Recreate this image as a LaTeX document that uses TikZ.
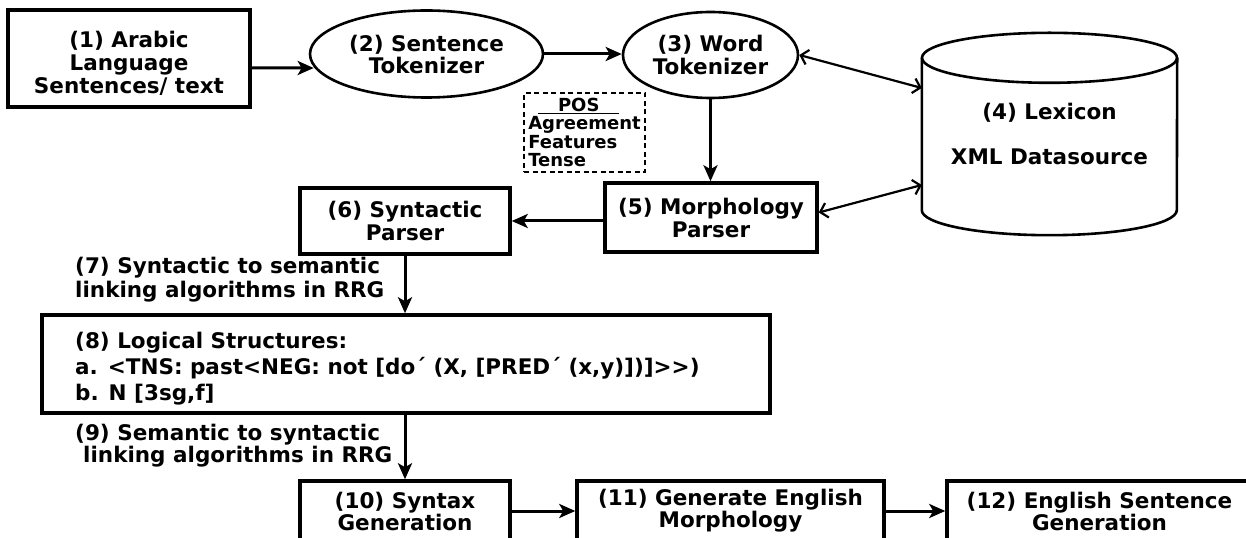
\documentclass[tikz,border=0pt]{standalone}
\usepackage{fontspec}
\setmainfont{DejaVu Sans}
\usetikzlibrary{shapes.geometric,arrows.meta}
\begin{document}
\begin{tikzpicture}[x=1bp,y=-1bp,
  every node/.style={font=\bfseries\fontsize{21.5bp}{23bp}\selectfont},
  box/.style={draw, line width=3.5bp, rectangle, inner sep=0pt, align=center},
  oval/.style={draw, line width=2.6bp, ellipse, inner sep=0pt, align=center},
  arr/.style={line width=3bp, -{Stealth[length=16bp,width=14bp,inset=4bp]}},
  barb/.style={line width=2.2bp, {Straight Barb[length=7bp,width=15bp]}-{Straight Barb[length=7bp,width=15bp]}},
  lbl/.style={align=left, inner sep=0pt}
]
\useasboundingbox[fill=white] (0,0) rectangle (1246,538);

% top row
\node[box, minimum width=242bp, minimum height=97bp] (n1) at (129,58.5) {\rule{0pt}{26bp}(1) Arabic\\Language\\Sentences/ text};
\node[oval, minimum width=233bp, minimum height=87bp, font=\bfseries\fontsize{21.5bp}{22bp}\selectfont] (n2) at (426.5,54) {(2) Sentence\\Tokenizer};
\node[oval, minimum width=175bp, minimum height=86bp, font=\bfseries\fontsize{21.5bp}{23bp}\selectfont] (n3) at (710.5,55) {(3) Word\\Tokenizer};

% lexicon cylinder
\node[inner sep=0pt, minimum width=255bp, minimum height=202bp, align=center] (lex) at (1049.5,134) {(4) Lexicon\\[22bp]XML Datasource};
\draw[line width=2.6bp] (lex.north) ++(0,25) ellipse [x radius=127.5, y radius=25];
\draw[line width=2.6bp] ([yshift=-25bp]lex.north west) -- ([yshift=25bp]lex.south west)
  arc[start angle=180, end angle=0, x radius=127.5, y radius=25] -- ([yshift=-25bp]lex.north east);

% features box
\node[draw, dash pattern=on 5bp off 3.5bp, line width=2.6bp, minimum width=121bp, minimum height=79bp, inner sep=0pt,
  font=\bfseries\fontsize{18bp}{18.3bp}\selectfont, align=left] (feat) at (584.5,132.5)
  {\hspace*{10bp}\underline{\makebox[81bp]{POS}}\\Agreement\\Features\\Tense};

% middle row
\node[box, minimum width=212bp, minimum height=69bp] (n5) at (711,217.5) {(5) Morphology\\Parser};
\node[box, minimum width=210bp, minimum height=66bp] (n6) at (405,221) {(6) Syntactic\\Parser};

\node[lbl, anchor=west, font=\bfseries\fontsize{21.5bp}{24bp}\selectfont] (l7) at (75,280) {(7) Syntactic to semantic\\linking algorithms in RRG};

\node[box, minimum width=728bp, minimum height=98bp] (n8) at (406,364) {};
\node[lbl, anchor=north west, font=\bfseries\fontsize{21.5bp}{26bp}\selectfont] (n8t) at (75,332)
  {(8) Logical Structures:\\a. <TNS: past<NEG: not [do´ (X, [PRED´ (x,y)])]>\kern0pt>)\\b. N [3sg,f]};

\node[lbl, anchor=west, font=\bfseries\fontsize{21.5bp}{22bp}\selectfont] (l9) at (75,446) {(9) Semantic to syntactic\\\hspace*{8bp}linking algorithms in RRG};

% bottom row
\node[box, minimum width=210bp, minimum height=60bp, font=\bfseries\fontsize{21.5bp}{22bp}\selectfont] (n10) at (405,511) {(10) Syntax\\Generation};
\node[box, minimum width=307bp, minimum height=60bp, font=\bfseries\fontsize{21.5bp}{22bp}\selectfont] (n11) at (730.5,511) {(11) Generate English\\Morphology};
\node[box, minimum width=305bp, minimum height=60bp, font=\bfseries\fontsize{21.5bp}{22bp}\selectfont] (n12) at (1099.5,511) {(12) English Sentence\\Generation};

% connectors
\draw[arr] ([yshift=-9.5bp]n1.east) -- ([xshift=5bp,yshift=-14bp]n2.west);
\draw[arr] (n2.east) -- (n2.east -| n3.west);
\draw[barb] (n3.east) -- ([yshift=46bp]lex.west);
\draw[barb] ([yshift=5bp]n5.east) -- ([yshift=-51bp]lex.west);
\draw[arr] (n3.south) -- (n3.south |- n5.north);
\draw[arr] (n5.west |- n6.east) -- (n6.east);
\draw[arr] (n6.south) -- (n6.south |- n8.north);
\draw[arr] (n10.north |- n8.south) -- (n10.north);
\draw[arr] (n10.east) -- (n11.west);
\draw[arr] (n11.east) -- (n12.west);
\end{tikzpicture}
\end{document}
